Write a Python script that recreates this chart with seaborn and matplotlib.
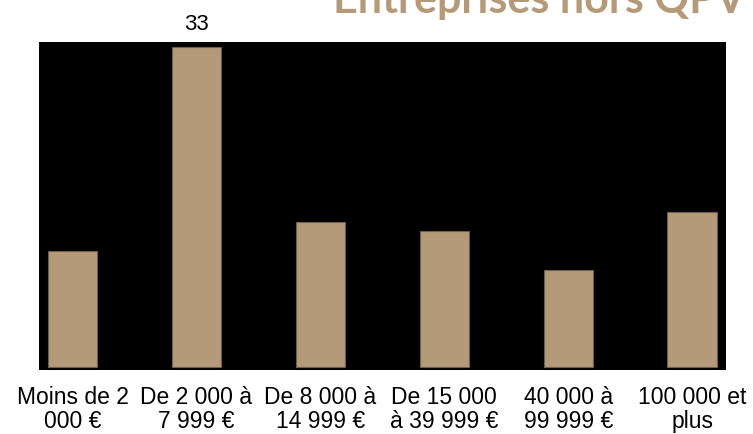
import matplotlib
matplotlib.use('Agg')
import matplotlib.pyplot as plt
import seaborn as sns
import pandas as pd

# Data
categories = ['Moins de 2\n000 €', 'De 2 000 à\n7 999 €', 'De 8 000 à\n14 999 €',
              'De 15 000\nà 39 999 €', '40 000 à\n99 999 €', '100 000 et\nplus']
values = [12, 33, 15, 14, 10, 16]
labelled = [False, True, False, False, False, False]
title = 'Entreprises hors QPV'

tan = '#b59a7a'

sns.set_theme(style='white')
plt.rcParams['font.family'] = ['Liberation Sans', 'DejaVu Sans']

df = pd.DataFrame({'cat': categories, 'val': values})

fig = plt.figure(figsize=(7.53, 4.35), dpi=100)
fig.patch.set_facecolor('white')
ax = fig.add_axes([0.0518, 0.147, 0.912, 0.754])
ax.set_facecolor('black')

sns.barplot(data=df, x='cat', y='val', color=tan, width=0.4, saturation=1,
            edgecolor='#6e5f4c', linewidth=0.8, ax=ax)

ax.set_xlim(-0.27, 5.27)
ax.set_ylim(-0.3, 33.5)
ax.set_xlabel('')
ax.set_ylabel('')
ax.set_yticks([])
ax.tick_params(axis='x', length=0, pad=11, labelsize=16.5, colors='black')
for lbl in ax.get_xticklabels():
    lbl.set_linespacing(1.05)
for sp in ax.spines.values():
    sp.set_visible(False)

for i, (v, show) in enumerate(zip(values, labelled)):
    if show:
        ax.text(i, v + 1.3, str(v), ha='center', va='bottom', fontsize=16,
                color='black', clip_on=False)

fig.text(0.442, 0.970, title, ha='left', va='baseline', fontsize=31,
         fontweight='bold', color=tan, family=['Lato', 'DejaVu Sans'])

fig.savefig('out.png', dpi=100, facecolor='white')
